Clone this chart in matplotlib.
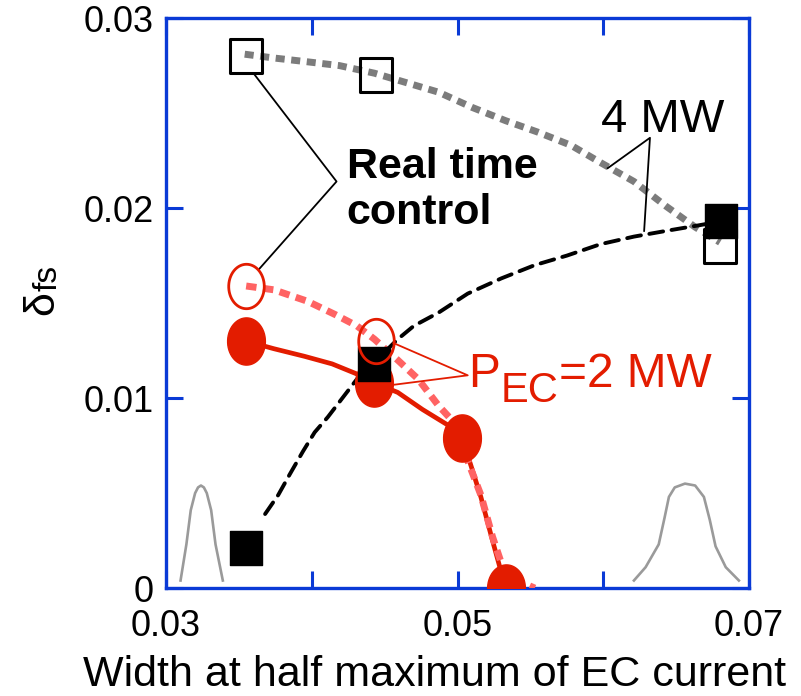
import numpy as np
import matplotlib
matplotlib.use("Agg")
import matplotlib.pyplot as plt
from matplotlib.path import Path

plt.rcParams['font.family'] = ['Liberation Sans', 'DejaVu Sans']

# ---- data ----
# 4 MW, real time control (open squares) and gray dotted curve
rt4_x = [0.0355, 0.0444, 0.0680]
rt4_y = [0.0280, 0.0270, 0.0180]
rt4_curve_x = [0.0354, 0.0374, 0.0397, 0.0419, 0.0443, 0.0465, 0.0487, 0.0510,
               0.0533, 0.0555, 0.0578, 0.0598, 0.0621, 0.0643, 0.0663, 0.0680]
rt4_curve_y = [0.0281, 0.0279, 0.0277, 0.0275, 0.0271, 0.0266, 0.0261, 0.0253,
               0.0246, 0.0240, 0.0233, 0.0224, 0.0214, 0.0201, 0.0190, 0.0182]

# 4 MW, fixed (filled squares) and black dashed curve
fx4_x = [0.0355, 0.0443, 0.0681]
fx4_y = [0.0021, 0.0118, 0.0193]
fx4_curve_x = [0.0368, 0.0377, 0.0385, 0.0394, 0.0402, 0.0411, 0.0422, 0.0431,
               0.0443, 0.0459, 0.0470, 0.0487, 0.0507, 0.0530, 0.0553, 0.0575,
               0.0598, 0.0621, 0.0643, 0.0666, 0.0680]
fx4_curve_y = [0.0039, 0.0049, 0.0060, 0.0072, 0.0082, 0.0090, 0.0101, 0.0110,
               0.0119, 0.0131, 0.0138, 0.0145, 0.0155, 0.0163, 0.0170, 0.0175,
               0.0181, 0.0185, 0.0188, 0.0191, 0.0193]

# 2 MW, real time control (open circles) and pink dashed curve
rt2_x = [0.0355, 0.0444]
rt2_y = [0.0159, 0.0130]
rt2_curve_x = [0.0355, 0.0374, 0.0397, 0.0416, 0.0431, 0.0443, 0.0459, 0.0473,
               0.0487, 0.0499, 0.0507, 0.0516, 0.0524, 0.0531, 0.0544, 0.0553]
rt2_curve_y = [0.0159, 0.0157, 0.0151, 0.0144, 0.0138, 0.0131, 0.0120, 0.0110,
               0.0096, 0.0086, 0.0067, 0.0049, 0.0027, 0.0011, 0.0003, 0.0000]

# 2 MW, fixed (filled circles) and red solid curve
fx2_x = [0.0355, 0.0443, 0.0503, 0.0533]
fx2_y = [0.0130, 0.0108, 0.0079, 0.0000]
fx2_curve_x = [0.0355, 0.0374, 0.0395, 0.0414, 0.0430, 0.0443, 0.0459, 0.0476,
               0.0493, 0.0503, 0.0509, 0.0516, 0.0524, 0.0533]
fx2_curve_y = [0.0130, 0.0126, 0.0122, 0.0118, 0.0113, 0.0108, 0.0103, 0.0094,
               0.0086, 0.0079, 0.0065, 0.0048, 0.0025, 0.0000]

# current profile sketches (narrow / wide)
narrow_x = [0.0310, 0.0314, 0.0317, 0.0320, 0.0322, 0.0324, 0.0326, 0.0328,
            0.0331, 0.0334, 0.0339]
narrow_y = [0.0004, 0.0023, 0.0041, 0.0050, 0.0053, 0.0054, 0.0053, 0.0050,
            0.0041, 0.0023, 0.0004]
wide_x = [0.0621, 0.0629, 0.0638, 0.0642, 0.0645, 0.0649, 0.0656, 0.0663,
          0.0669, 0.0673, 0.0677, 0.0684, 0.0693]
wide_y = [0.0004, 0.0011, 0.0023, 0.0037, 0.0048, 0.0053, 0.0055, 0.0054,
          0.0048, 0.0036, 0.0022, 0.0011, 0.0004]

blue = '#0a3ad6'
red = '#e31c00'
pink = '#ff6363'
gray = '#7c7c7c'

# slightly tall ellipse / rectangle markers
t = np.linspace(0, 2 * np.pi, 60)
ell = Path(np.column_stack([0.80 * np.cos(t), np.sin(t)]), closed=True)
rect = Path([(-0.45, -0.5), (0.45, -0.5), (0.45, 0.5), (-0.45, 0.5), (-0.45, -0.5)],
            closed=True)

fig = plt.figure(figsize=(8.01, 6.96), dpi=100)
ax = fig.add_axes([0.2072, 0.155, 0.728, 0.819])

# curves
ax.plot(narrow_x, narrow_y, color='#9a9a9a', lw=1.9, zorder=1)
ax.plot(wide_x, wide_y, color='#9a9a9a', lw=1.9, zorder=1)
ax.plot(rt4_curve_x, rt4_curve_y, color=gray, lw=5, dashes=(1.3, 0.95),
        dash_capstyle='butt', zorder=2)
ax.plot(fx2_curve_x, fx2_curve_y, color=red, lw=3.4, zorder=2)
ax.plot(rt2_curve_x, rt2_curve_y, color=pink, lw=5, dashes=(1.5, 0.95),
        dash_capstyle='butt', zorder=3)
ax.plot(fx4_curve_x, fx4_curve_y, color='black', lw=2.8, dashes=(3.6, 2.2),
        dash_capstyle='round', zorder=4)

# markers
ax.plot(fx2_x, fx2_y, ls='none', marker=ell, ms=34, color=red, zorder=5)
ax.plot(fx4_x, fx4_y, ls='none', marker=rect, ms=25, color='black', zorder=6)
ax.plot(rt4_x, rt4_y, ls='none', marker=rect, ms=25, mfc='none', mec='black',
        mew=2.2, zorder=5)
ax.plot(rt2_x, rt2_y, ls='none', marker=ell, ms=32, mfc='none', mec=red,
        mew=2.0, zorder=7)

# annotation leader lines
ax.plot([0.0361, 0.0417, 0.0364], [0.0270, 0.0214, 0.0168], color='black', lw=1.3, zorder=4)
ax.plot([0.0603, 0.0632, 0.0628], [0.0221, 0.0237, 0.0188], color='black', lw=1.3, zorder=4)
ax.plot([0.0456, 0.0507, 0.0456], [0.0129, 0.0112, 0.0107], color=red, lw=1.3, zorder=8)

ax.text(0.0424, 0.0232, 'Real time\ncontrol', fontsize=31, fontweight='bold',
        ha='left', va='top', linespacing=1.18)
ax.text(0.0641, 0.0240, '4 MW', fontsize=34, ha='center', va='baseline')
t1 = ax.text(0.0507, 0.0106, 'P', fontsize=34.5, color=red, ha='left', va='baseline')
t2 = ax.annotate('EC', xy=(1, 0), xycoords=t1, xytext=(0.5, -10),
                 textcoords='offset points', fontsize=30, color=red,
                 ha='left', va='bottom')
ax.annotate('=2 MW', xy=(1, 0), xycoords=t2, xytext=(0.5, 10),
            textcoords='offset points', fontsize=34.5, color=red,
            ha='left', va='bottom')

ax.set_xlim(0.03, 0.07)
ax.set_ylim(0, 0.03)
ax.set_xticks([0.03, 0.04, 0.05, 0.06, 0.07])
ax.set_xticklabels(['0.03', '', '0.05', '', '0.07'])
ax.set_yticks([0, 0.01, 0.02, 0.03])
ax.set_yticklabels(['0', '0.01', '0.02', '0.03'])
ax.tick_params(direction='in', length=12, width=2.2, color=blue, labelsize=26,
               top=True, right=True)
ax.tick_params(axis='x', pad=15)
ax.tick_params(axis='y', pad=9)
for s in ax.spines.values():
    s.set_color(blue)
    s.set_linewidth(2.4)

ax.set_xlabel('Width at half maximum of EC current', fontsize=31)
ax.xaxis.set_label_coords(0.46, -0.172)
ax.xaxis.label.set_va('baseline')

# y label: delta with a large "fs" subscript, rotated
d = ax.text(-0.246, 0.5, 'δ', fontsize=31, rotation=90, ha='left', va='center',
            transform=ax.transAxes)
ax.annotate('fs', xy=(0, 1), xycoords=d, xytext=(7, 0), textcoords='offset points',
            fontsize=24, rotation=90, ha='left', va='bottom')

fig.savefig('out.png', dpi=100)
